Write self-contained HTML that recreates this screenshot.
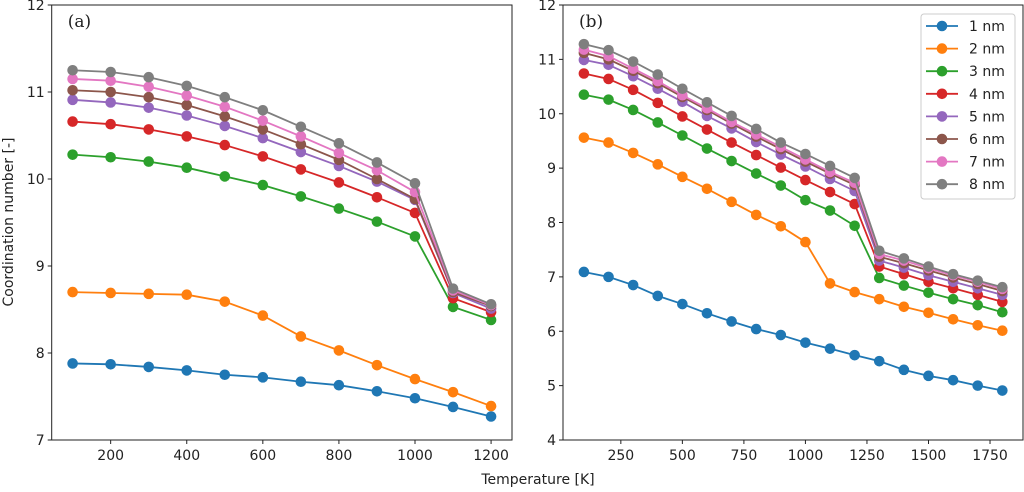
<!DOCTYPE html>
<html><head><meta charset="utf-8"><style>
body{margin:0;background:#fff}
svg text{font-family:"DejaVu Sans","Liberation Sans",sans-serif;fill:#222}
</style></head><body>
<svg id="chart" width="1024" height="487" viewBox="0 0 1024 487" xmlns="http://www.w3.org/2000/svg"></svg>
<script>
const colors=["#1f77b4","#ff7f0e","#2ca02c","#d62728","#9467bd","#8c564b","#e377c2","#7f7f7f"];
const seriesNames=["1 nm","2 nm","3 nm","4 nm","5 nm","6 nm","7 nm","8 nm"];
const tempsA=[100,200,300,400,500,600,700,800,900,1000,1100,1200];
const tempsB=[100,200,300,400,500,600,700,800,900,1000,1100,1200,1300,1400,1500,1600,1700,1800];
const valuesA=[
[7.88,7.87,7.84,7.80,7.75,7.72,7.67,7.63,7.56,7.48,7.38,7.27],
[8.70,8.69,8.68,8.67,8.59,8.43,8.19,8.03,7.86,7.70,7.55,7.39],
[10.28,10.25,10.20,10.13,10.03,9.93,9.80,9.66,9.51,9.34,8.53,8.38],
[10.66,10.63,10.57,10.49,10.39,10.26,10.11,9.96,9.79,9.61,8.63,8.47],
[10.91,10.88,10.82,10.73,10.61,10.47,10.31,10.15,9.97,9.76,8.69,8.51],
[11.02,11.00,10.94,10.85,10.72,10.57,10.40,10.22,10.00,9.77,8.70,8.54],
[11.15,11.13,11.06,10.96,10.83,10.67,10.49,10.30,10.10,9.85,8.72,8.55],
[11.25,11.23,11.17,11.07,10.94,10.79,10.60,10.41,10.19,9.95,8.74,8.56]];
const valuesB=[
[7.09,7.00,6.85,6.65,6.50,6.33,6.18,6.04,5.93,5.79,5.68,5.56,5.45,5.29,5.18,5.10,5.00,4.91],
[9.56,9.47,9.28,9.07,8.84,8.62,8.38,8.14,7.93,7.64,6.88,6.72,6.59,6.45,6.34,6.22,6.11,6.01],
[10.35,10.26,10.07,9.84,9.60,9.36,9.13,8.90,8.68,8.41,8.22,7.94,6.98,6.84,6.71,6.59,6.48,6.35],
[10.74,10.64,10.44,10.20,9.95,9.71,9.47,9.24,9.01,8.78,8.56,8.34,7.19,7.05,6.91,6.79,6.67,6.54],
[10.99,10.90,10.69,10.46,10.22,9.96,9.73,9.48,9.25,9.03,8.80,8.58,7.30,7.17,7.03,6.91,6.79,6.67],
[11.12,11.00,10.79,10.56,10.31,10.07,9.82,9.58,9.35,9.12,8.90,8.69,7.37,7.25,7.12,6.99,6.87,6.74],
[11.18,11.06,10.83,10.60,10.34,10.10,9.85,9.62,9.39,9.16,8.93,8.73,7.42,7.30,7.16,7.03,6.91,6.78],
[11.28,11.17,10.96,10.72,10.46,10.21,9.96,9.72,9.47,9.26,9.04,8.82,7.48,7.34,7.19,7.05,6.93,6.81]];
const xTicksA=[200,400,600,800,1000,1200];
const yTicksA=[7,8,9,10,11,12];
const xTicksB=[250,500,750,1000,1250,1500,1750];
const yTicksB=[4,5,6,7,8,9,10,11,12];

const NS="http://www.w3.org/2000/svg";
const svg=document.getElementById('chart');
function mk(tag,attrs,parent){const e=document.createElementNS(NS,tag);for(const k in attrs)e.setAttribute(k,attrs[k]);(parent||svg).appendChild(e);return e;}

function panel(p){
  const g=mk('g',{});
  
  
  const sx=v=>p.x0+(v-p.xd[0])/(p.xd[1]-p.xd[0])*(p.x1-p.x0);
  const sy=v=>p.y1-(v-p.yd[0])/(p.yd[1]-p.yd[0])*(p.y1-p.y0);
  p.xt.forEach(t=>{
    const x=sx(t);
    const l=mk('line',{x1:x,x2:x,y1:p.y1,y2:p.y1+4,stroke:'#222','stroke-width':1},g);
    
    
    const tx=mk('text',{x:x,y:p.y1+20,'text-anchor':'middle','font-size':14},g);
    tx.textContent=t;
    
    
  });
  p.yt.forEach(t=>{
    const y=sy(t);
    const l=mk('line',{x1:p.x0-4,x2:p.x0,y1:y,y2:y,stroke:'#222','stroke-width':1},g);
    
    
    const tx=mk('text',{x:p.x0-7,y:y+5,'text-anchor':'end','font-size':14},g);
    tx.textContent=t;
    
    
  });
  p.vals.forEach((s,i)=>{
    const pts=s.map((v,j)=>sx(p.temps[j])+','+sy(v)).join(' ');
    const pl=mk('polyline',{points:pts,fill:'none',stroke:colors[i],'stroke-width':1.8},g);
    
    
    s.forEach((v,j)=>{
      const c=mk('circle',{cx:sx(p.temps[j]),cy:sy(v),r:5.3,fill:colors[i]},g);
      
      
    });
  });
  const fr=mk('rect',{x:p.x0,y:p.y0,width:p.x1-p.x0,height:p.y1-p.y0,fill:'none',stroke:'#222','stroke-width':1},g);
  
  
  const lb=mk('text',{x:p.x0+16,y:27,'font-size':17,style:'font-family:"DejaVu Serif","Liberation Serif",serif'},g);
  lb.textContent=p.label;
  
  
}
panel({name:'panel-a',x0:51.7,x1:512,y0:5,y1:440,xd:[45,1255],yd:[7,12],xt:xTicksA,yt:yTicksA,temps:tempsA,vals:valuesA,label:'(a)'});
panel({name:'panel-b',x0:563,x1:1023,y0:5,y1:440,xd:[15,1884],yd:[4,12],xt:xTicksB,yt:yTicksB,temps:tempsB,vals:valuesB,label:'(b)'});

const xl=mk('text',{x:538,y:484,'text-anchor':'middle','font-size':14});
xl.textContent='Temperature [K]';


const yl=mk('text',{x:0,y:0,'text-anchor':'middle','font-size':14,transform:'translate(13,222) rotate(-90)'});
yl.textContent='Coordination number [-]';



const lg=mk('g',{});


mk('rect',{x:921,y:14,width:94,height:185,rx:3,fill:'#fff',stroke:'#ccc','stroke-width':1},lg);
seriesNames.forEach((n,i)=>{
  const y=26+i*22.6;
  const e=mk('g',{},lg);
  
  
  mk('line',{x1:926,x2:958,y1:y,y2:y,stroke:colors[i],'stroke-width':1.8},e);
  mk('circle',{cx:942,cy:y,r:5.3,fill:colors[i]},e);
  const t=mk('text',{x:969,y:y+5,'font-size':14},e);
  t.textContent=n;
});
</script>
</body></html>
